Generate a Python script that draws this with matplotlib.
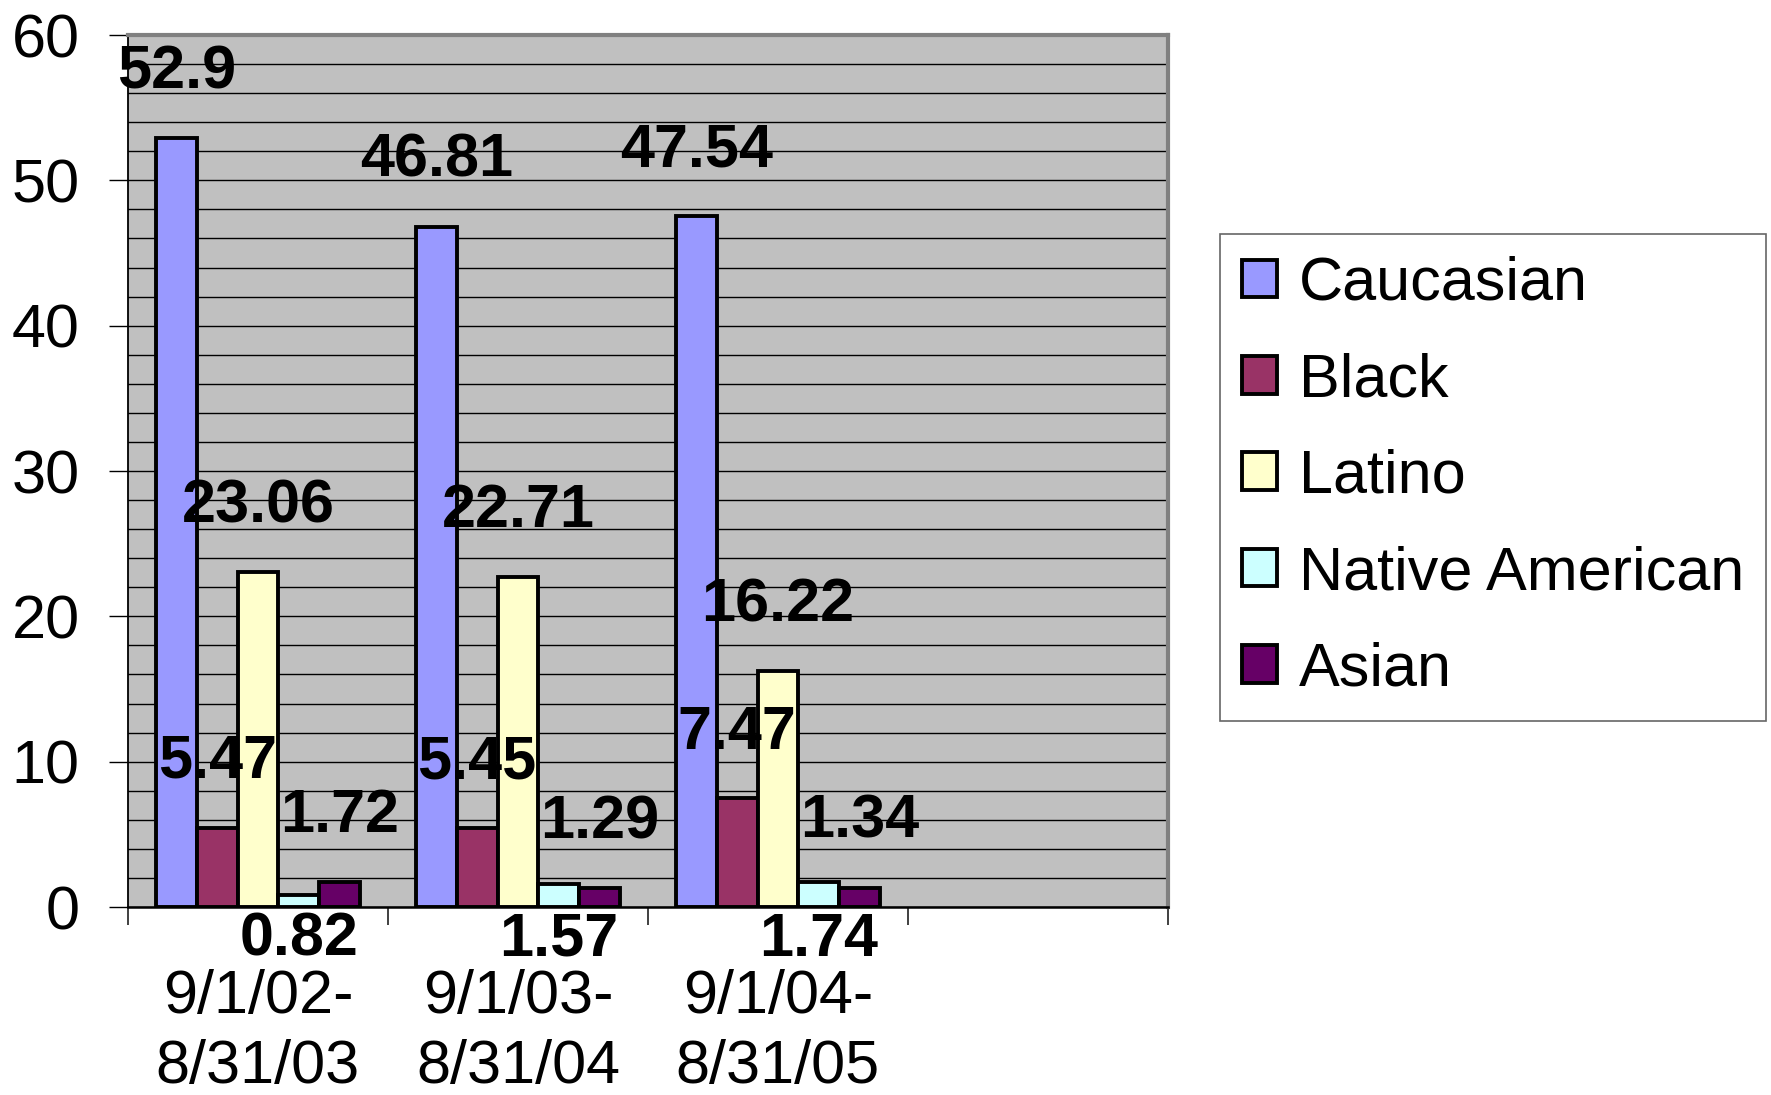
import matplotlib
matplotlib.use("Agg")
import matplotlib.pyplot as plt
import numpy as np

plt.rcParams['font.family'] = ['Liberation Sans', 'DejaVu Sans']

categories = ['9/1/02-\n8/31/03', '9/1/03-\n8/31/04', '9/1/04-\n8/31/05']
series_names = ['Caucasian', 'Black', 'Latino', 'Native American', 'Asian']
caucasian = [52.9, 46.81, 47.54]
black = [5.47, 5.45, 7.47]
latino = [23.06, 22.71, 16.22]
native_american = [0.82, 1.57, 1.74]
asian = [1.72, 1.29, 1.34]
series_values = [caucasian, black, latino, native_american, asian]
colors = ['#9999FF', '#993366', '#FFFFCC', '#CCFFFF', '#660066']
y_ticks = [0, 10, 20, 30, 40, 50, 60]

FS = 44

fig = plt.figure(figsize=(17.71, 10.95), dpi=100)
ax = fig.add_axes([128/1771, 1-907/1095, (1168-128)/1771, (907-35)/1095])
ax.set_facecolor('#C0C0C0')

n_series = len(series_values)
bw = 0.157
x = np.arange(len(categories))
for i, (name, vals, c) in enumerate(zip(series_names, series_values, colors)):
    pos = x + (i - (n_series - 1) / 2) * bw
    ax.bar(pos, vals, bw, color=c, edgecolor='black', linewidth=2.8, label=name, zorder=3)
    for xp, v in zip(pos, vals):
        if name == 'Native American':
            ax.annotate(f'{v:g}', (xp, 0), xytext=(0, -24), textcoords='offset points',
                        ha='center', va='center', fontsize=FS, fontweight='bold', zorder=5,
                        annotation_clip=False)
        else:
            ax.annotate(f'{v:g}', (xp, v), xytext=(0, 47), textcoords='offset points',
                        ha='center', va='center', fontsize=FS, fontweight='bold', zorder=5)

ax.set_xlim(-0.5, 3.5)
ax.set_ylim(0, 60)
ax.set_yticks(y_ticks)
ax.set_yticks(np.arange(0, 61, 2), minor=True)
ax.yaxis.grid(True, which='both', color='black', linewidth=1.0, zorder=1)
ax.set_axisbelow(True)
ax.tick_params(axis='y', which='major', direction='out', length=13.7, width=1, pad=21, labelsize=FS)
ax.tick_params(axis='y', which='minor', length=0)

ax.set_xticks(x)
ax.set_xticklabels(categories, fontsize=FS, linespacing=1.28)
ax.set_xticks(np.arange(-0.5, 3.6, 1), minor=True)
ax.tick_params(axis='x', which='major', length=0, pad=45)
ax.tick_params(axis='x', which='minor', direction='out', length=13, width=1.2, color='#202020')

for s in ['top', 'right']:
    ax.spines[s].set_color('#808080')
    ax.spines[s].set_linewidth(3)
ax.spines['left'].set_color('black')
ax.spines['left'].set_linewidth(1.3)
ax.spines['bottom'].set_color('black')
ax.spines['bottom'].set_linewidth(1.8)

leg = fig.legend(loc='upper left', bbox_to_anchor=(1220/1771, 1-234/1095),
                 bbox_transform=fig.transFigure, fontsize=FS, frameon=True, fancybox=False,
                 borderaxespad=0, borderpad=0.36, labelspacing=0.645,
                 handlelength=0.57, handleheight=0.57, handletextpad=0.36)
leg.get_frame().set_edgecolor('#404040')
leg.get_frame().set_linewidth(1.2)

fig.savefig('out.png', dpi=100)
